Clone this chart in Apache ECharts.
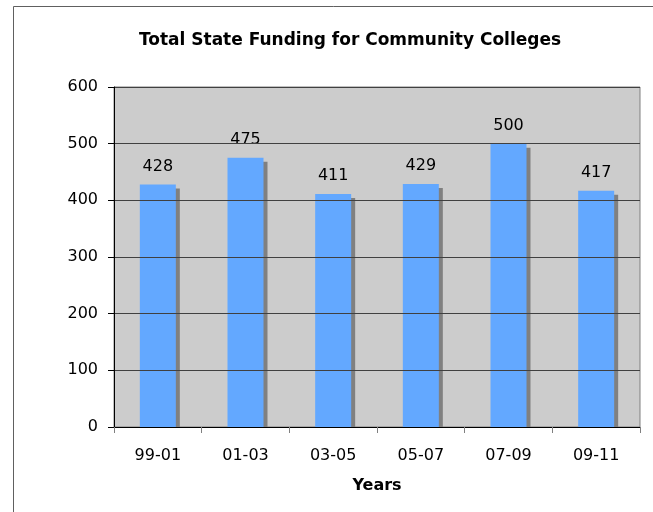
<!DOCTYPE html>
<html>
<head>
<meta charset="utf-8">
<script src="https://cdn.jsdelivr.net/npm/echarts@6/dist/echarts.min.js"></script>
<style>
  html, body { margin: 0; padding: 0; background: #fff; }
  #main { width: 653px; height: 512px; }
</style>
</head>
<body>
<div id="main"></div>
<script>
// values
const years = ['99-01', '01-03', '03-05', '05-07', '07-09', '09-11'];
const funding = [428, 475, 411, 429, 500, 417];

const myChart = echarts.init(document.getElementById('main'));

const option = {
    animation: false,
    backgroundColor: '#fff',
    textStyle: { fontFamily: 'DejaVu Sans', color: '#000' },
    title: {
        text: 'Total State Funding for Community Colleges',
        left: 345,
        top: 27,
        textAlign: 'center',
        textStyle: { fontSize: 17, fontWeight: 'bold', color: '#000', fontFamily: 'DejaVu Sans' }
    },
    graphic: [{
        // outer frame (only left / top edges are visible)
        type: 'rect',
        silent: true,
        shape: { x: 13.5, y: 6.5, width: 700, height: 600 },
        style: { fill: null, stroke: '#606060', lineWidth: 1 }
    }, {
        // hide the part of the bar shadows that would fall under the x axis
        type: 'rect',
        silent: true,
        z: 3,
        shape: { x: 110, y: 428, width: 540, height: 8 },
        style: { fill: '#fff' }
    }],
    grid: {
        left: 114,
        right: 13,
        top: 87,
        bottom: 85,
        show: true,
        backgroundColor: '#cccccc',
        borderColor: '#808080',
        borderWidth: 1
    },
    xAxis: {
        type: 'category',
        data: years,
        name: 'Years',
        nameLocation: 'middle',
        nameGap: 51,
        nameTextStyle: { fontSize: 16, fontWeight: 'bold', color: '#000' },
        axisLine: { lineStyle: { color: '#000' } },
        axisTick: { show: true, length: 6, lineStyle: { color: '#808080' } },
        axisLabel: { fontSize: 16, color: '#000', margin: 21 },
        z: 5
    },
    yAxis: {
        type: 'value',
        min: 0,
        max: 600,
        interval: 100,
        axisLine: { show: true, lineStyle: { color: '#000' } },
        axisTick: { show: true, length: 6, lineStyle: { color: '#000' } },
        axisLabel: { fontSize: 16, color: '#000', margin: 16 },
        splitLine: { lineStyle: { color: '#404040', width: 1 } },
        z: 5
    },
    series: [{
        type: 'bar',
        data: funding,
        barWidth: 36,
        itemStyle: {
            color: '#63a8ff',
            shadowColor: '#808080',
            shadowOffsetX: 4,
            shadowOffsetY: 4,
            shadowBlur: 0
        },
        label: {
            show: true,
            position: 'top',
            distance: 10,
            fontSize: 16,
            color: '#000',
            fontFamily: 'DejaVu Sans'
        }
    }]
};

myChart.setOption(option);
</script>
</body>
</html>
